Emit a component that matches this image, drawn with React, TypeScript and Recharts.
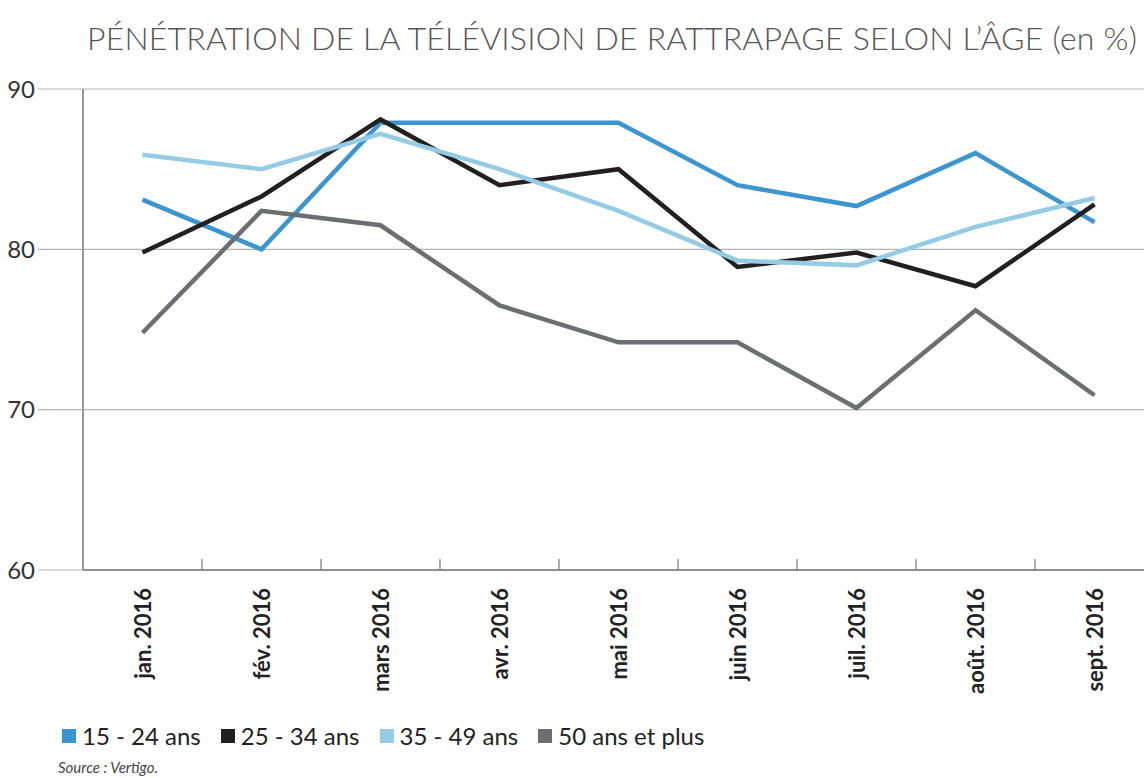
import { LineChart, Line, XAxis, YAxis, CartesianGrid, Legend } from 'recharts'

const months = ['jan. 2016', 'fév. 2016', 'mars 2016', 'avr. 2016', 'mai 2016', 'juin 2016', 'juil. 2016', 'août. 2016', 'sept. 2016']
const age15to24 = [83.1, 80, 87.9, 87.9, 87.9, 84, 82.7, 86, 81.7]
const age25to34 = [79.8, 83.3, 88.1, 84, 85, 78.9, 79.8, 77.7, 82.8]
const age35to49 = [85.9, 85, 87.2, 85, 82.4, 79.3, 79, 81.4, 83.2]
const age50plus = [74.8, 82.4, 81.5, 76.5, 74.2, 74.2, 70.1, 76.2, 70.9]
const yTicks = [60, 70, 80, 90]

const seriesNames = ['15 - 24 ans', '25 - 34 ans', '35 - 49 ans', '50 ans et plus']
const seriesColors = ['#3a95d1', '#231f20', '#93cce4', '#6d6e71']

const data = months.map((m, i) => ({
  month: m,
  a: age15to24[i],
  b: age25to34[i],
  c: age35to49[i],
  d: age50plus[i],
}))

const FONT = 'Lato, "Open Sans", sans-serif'

// month label rotated upward, plus a small tick at the right edge of each band
function MonthTick(props: any) {
  const { x, y, payload } = props
  const half = payload.offset ?? 0
  return (
    <g>
      <line x1={x + half} x2={x + half} y1={y} y2={y - 11} stroke="#777" strokeWidth={1.2} />
      <text
        transform={`translate(${x + 8},${y + 18}) rotate(-90)`}
        textAnchor="end"
        fill="#222"
        fontSize={22}
        fontWeight={700}
        fontFamily={FONT}
      >
        {payload.value}
      </text>
    </g>
  )
}

function LegendRow({ payload }: any) {
  return (
    <div style={{ display: 'flex', alignItems: 'center', fontFamily: FONT, fontSize: 24, color: '#222' }}>
      {(payload || []).map((item: any) => (
        <div key={item.value} style={{ display: 'flex', alignItems: 'center', marginRight: 20 }}>
          <span style={{ width: 14, height: 14, background: item.color, display: 'inline-block', marginRight: 6 }} />
          <span>{item.value}</span>
        </div>
      ))}
    </div>
  )
}

export default function App() {
  return (
    <div style={{ position: 'absolute', left: 0, top: 0, width: 1144, height: 778, overflow: 'hidden', background: '#fff' }}>
      <div
        style={{
          position: 'absolute',
          left: 87,
          top: 18,
          fontFamily: FONT,
          fontWeight: 300,
          fontSize: 32,
          lineHeight: '40px',
          letterSpacing: 0.2,
          whiteSpace: 'nowrap',
          color: '#555',
        }}
      >
        PÉNÉTRATION DE LA TÉLÉVISION DE RATTRAPAGE SELON L’ÂGE (en %)
      </div>
      <LineChart
        width={1170}
        height={778}
        data={data}
        margin={{ top: 89, right: 16, bottom: 88, left: 0 }}
        style={{ position: 'absolute', left: 0, top: 0 }}
      >
        <CartesianGrid vertical={false} stroke="#b3b3b3" strokeWidth={1.2} />
        <XAxis
          dataKey="month"
          scale="band"
          height={120}
          tick={<MonthTick />}
          tickLine={false}
          tickSize={0}
          tickMargin={0}
          interval={0}
          axisLine={{ stroke: '#777', strokeWidth: 1.5 }}
        />
        <YAxis
          domain={[60, 90]}
          ticks={yTicks}
          width={83}
          tickSize={45}
          tickMargin={3}
          tickLine={{ stroke: '#b3b3b3', strokeWidth: 1.2 }}
          axisLine={{ stroke: '#777', strokeWidth: 1.5 }}
          tick={{ fill: '#333', fontSize: 24, fontFamily: FONT }}
        />
        <Legend
          layout="horizontal"
          verticalAlign="middle"
          align="center"
          content={<LegendRow />}
          wrapperStyle={{ left: 62, top: 721, width: 900 }}
        />
        {['a', 'b', 'c', 'd'].map((k, i) => (
          <Line
            key={k}
            dataKey={k}
            name={seriesNames[i]}
            stroke={seriesColors[i]}
            strokeWidth={4.5}
            dot={false}
            activeDot={false}
            isAnimationActive={false}
            strokeLinejoin="miter"
          />
        ))}
      </LineChart>
      <div
        style={{
          position: 'absolute',
          left: 58,
          top: 758,
          fontFamily: FONT,
          fontStyle: 'italic',
          fontSize: 15,
          color: '#444',
        }}
      >
        Source : Vertigo.
      </div>
    </div>
  )
}
